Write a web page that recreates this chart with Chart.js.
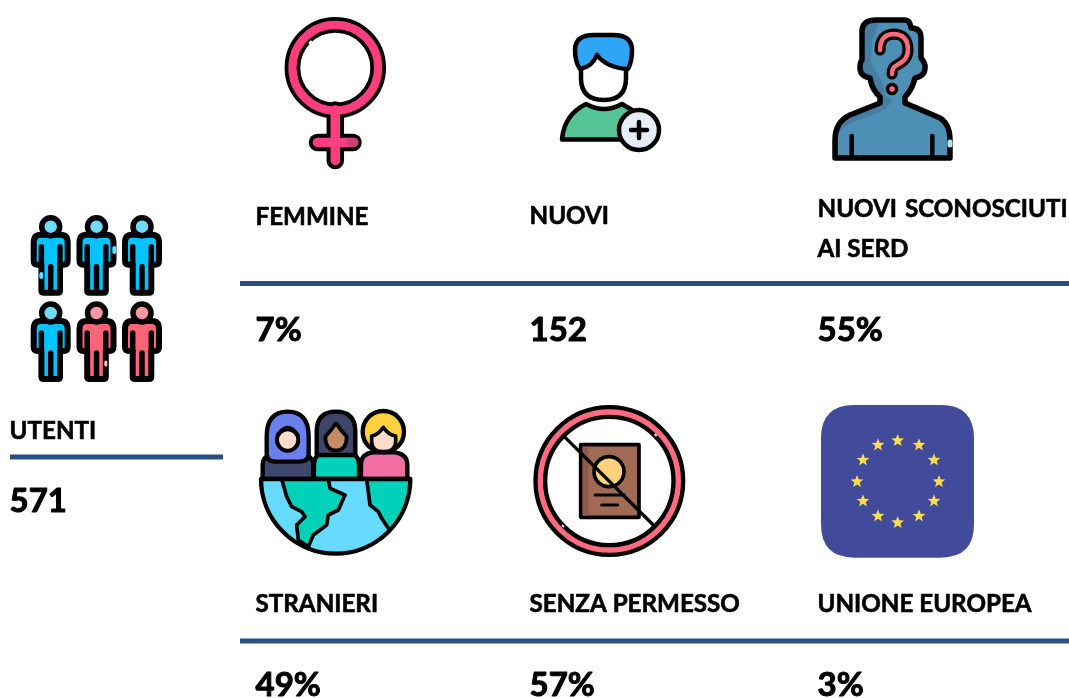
<!DOCTYPE html>
<html>
<head>
<meta charset="utf-8">
<title>Utenti</title>
<style>
html, body { margin: 0; padding: 0; background: #fff; overflow: hidden; }
canvas { display: block; }
</style>
<script src="https://cdn.jsdelivr.net/npm/chart.js@4"></script>
</head>
<body>
<canvas id="mycanvas" width="1069" height="698"></canvas>
<script>
// data
var categories = [['UTENTI'], ['FEMMINE'], ['NUOVI'], ['NUOVI SCONOSCIUTI', 'AI SERD'], ['STRANIERI'], ['SENZA PERMESSO'], ['UNIONE EUROPEA']];
var values = [571, 7, 152, 55, 49, 57, 3];
var units = ['', '%', '', '%', '%', '%', '%'];

// layout, in the units of the two hidden axes (same as px here)
var textX = [9.5, 255.5, 529.5, 817.5, 255.5, 529.5, 817.5];
var labelY = [439, 225, 224, 217, 612, 612, 612];
var valueY = [512, 341, 341, 341, 696, 696, 696];
var ruleFrom = [[10, 457], [240, 283.5], [240, 641]];
var ruleTo = [[223, 457], [1069, 283.5], [1069, 641]];
var iconPos = [[96, 299], [335, 94], [611, 92], [892, 90], [335, 482.5], [610, 482.5], [897.5, 480]];

function stroke(c, w) {
  c.strokeStyle = '#000';
  c.lineWidth = w;
  c.stroke();
}
function shape(c, d, fill, w) {
  var p = new Path2D(d);
  if (fill) { c.fillStyle = fill; c.fill(p); }
  if (w) { c.strokeStyle = '#000'; c.lineWidth = w; c.stroke(p); }
}
function disc(c, x, y, r, fill, w) {
  c.beginPath();
  c.arc(x, y, r, 0, Math.PI * 2);
  if (fill) { c.fillStyle = fill; c.fill(); }
  if (w) stroke(c, w);
}
function seg(c, x1, y1, x2, y2, col, w) {
  c.beginPath();
  c.moveTo(x1, y1);
  c.lineTo(x2, y2);
  c.strokeStyle = col;
  c.lineWidth = w;
  c.stroke();
}
// every icon is drawn on its own small canvas, used as a pointStyle
function icon(w, h, k, draw) {
  var cv = document.createElement('canvas');
  cv.width = w;
  cv.height = h;
  var c = cv.getContext('2d');
  c.lineJoin = 'round';
  c.lineCap = 'round';
  c.scale(k, k);
  draw(c);
  return cv;
}

function person(c, x, y, body, head) {
  c.save();
  c.translate(x, y);
  shape(c, 'M-10,8 Q-17,8 -17,16 L-17,34 Q-17,38 -13,38 L-9.3,38 L-9.3,64 Q-9.3,66 -7,66 L7,66 Q9.3,66 9.3,64 L9.3,38 L13,38 Q17,38 17,34 L17,16 Q17,8 10,8 Z', body, 6);
  seg(c, -9.3, 20, -9.3, 38, '#000', 5.5);
  seg(c, 9.3, 20, 9.3, 38, '#000', 5.5);
  seg(c, 0, 40, 0, 66, '#000', 5.5);
  disc(c, 0, 0, 9, head, 5.5);
  c.restore();
}

var icons = [
  // people
  icon(140, 180, 1, function (c) {
    c.translate(-26, -209);
    var blue = '#00c4ff', lblue = '#6fdcff', red = '#ff6578', lred = '#ff98a3';
    person(c, 50.7, 226.7, blue, lblue);
    person(c, 96.5, 226.7, blue, lblue);
    person(c, 142, 226.7, blue, lblue);
    person(c, 50.7, 313, blue, lblue);
    person(c, 96.5, 313, red, lred);
    person(c, 142, 313, red, lred);
    seg(c, 41.3, 274, 41.3, 277, '#66dcff', 4);
    seg(c, 114.3, 248, 114.3, 252, '#66dcff', 4);
    seg(c, 105.8, 362, 105.8, 365, '#ffc0c8', 3);
  }),
  // venus
  icon(120, 176, 1, function (c) {
    c.translate(-275, -6);
    seg(c, 335.3, 110, 335.3, 160.5, '#000', 17.5);
    seg(c, 317.5, 142.5, 353, 142.5, '#000', 17.5);
    disc(c, 335.3, 67.7, 42.85, null, 15.7);
    c.strokeStyle = '#ff3d7f';
    c.lineWidth = 8.2;
    c.beginPath(); c.arc(335.3, 67.7, 42.85, 0, Math.PI * 2); c.stroke();
    seg(c, 335.3, 110, 335.3, 160.5, '#ff3d7f', 9.5);
    seg(c, 317.5, 142.5, 353, 142.5, '#ff3d7f', 9.5);
    seg(c, 351, 142.5, 354, 142.5, '#c8427a', 9.5);
    seg(c, 309.5, 43, 311, 41.5, '#fff', 2);
  }),
  // new user
  icon(120, 130, 1, function (c) {
    c.translate(-551, -27);
    shape(c, 'M562,139.5 Q564,115 586,104 Q604,114 622,104 L642,116 L642,139.5 Z', '#55c496', 4.5);
    shape(c, 'M581,45 L581,78 Q581,100 604,100 Q626,100 626,78 L626,45 Z', '#fff', 4.5);
    shape(c, 'M580,69 Q575,62 575,50 Q575,35 594,35 L613,35 Q632,35 632,50 Q632,62 628,69 Q607,68 597,55 Q592,67 580,69 Z', '#2fa5f5', 4.5);
    disc(c, 639, 130, 20, '#e6ecf8', 4.5);
    seg(c, 639, 122, 639, 138, '#000', 4.5);
    seg(c, 631, 130, 647, 130, '#000', 4.5);
  }),
  // unknown person
  icon(130, 150, 1, function (c) {
    c.translate(-827, -15);
    var outline = 'M835,158 L835,140 Q835,122 850,115 L880,103 L880,97 Q872,90 870,78 Q860,76 860,68 Q860,62 862,60 L862,32 Q862,20 876,20 L905,20 Q910,20 911,28 Q921,28 921,38 L921,58 Q926,64 925,68 Q925,76 915,78 Q912,90 905,97 L905,103 L940,118 Q950,124 950,140 L950,158 Z';
    shape(c, outline, '#4d8fb5', 0);
    c.save();
    c.clip(new Path2D(outline));
    shape(c, 'M830,160 L838,160 L838,136 Q842,126 856,121 L885,110 L893,100 L885,96 L882,82 L876,72 L871,62 L872,40 L880,20 L855,15 L830,120 Z', '#467ca0', 0);
    c.restore();
    shape(c, outline, null, 5.5);
    seg(c, 851.7, 136, 851.7, 158, '#000', 4.5);
    seg(c, 932.3, 136, 932.3, 158, '#000', 4.5);
    seg(c, 950, 142, 950, 145, '#b8e4f0', 5);
    var q = 'M880,50 Q880,35 893,34 Q908,34 908,50 Q908,60 897,65 Q892,67 892,74';
    shape(c, q, null, 11);
    c.strokeStyle = '#ff6b78';
    c.lineWidth = 4.5;
    c.stroke(new Path2D(q));
    disc(c, 892, 89, 4.5, '#ff6b78', 3.5);
  }),
  // globe with women, drawn in 3x crop units
  icon(170, 165, 1 / 3, function (c) {
    // bodies
    shape(c, 'M38,237 L38,195 Q38,170 60,165 L170,165 Q190,175 190,195 L190,237 Z', '#40486f', 13);
    shape(c, 'M192,237 L192,195 Q192,160 230,157 L290,157 Q327,160 327,195 L327,237 Z', '#00d1b8', 13);
    shape(c, 'M333,237 L333,195 Q333,160 370,157 L430,157 Q472,160 472,195 L472,237 Z', '#f26ea3', 13);
    // hijab
    shape(c, 'M50,110 Q50,35 113,35 Q176,35 176,110 L176,160 Q176,185 150,185 L76,185 Q50,185 50,160 Z', '#6b80ef', 13);
    shape(c, 'M82,105 Q113,60 144,105', '#505fc0', 10);
    disc(c, 113, 120, 32, '#ffdcc8', 12);
    // dark hair
    shape(c, 'M200,165 L200,95 Q200,35 258,35 Q316,35 316,95 L316,165 Z', '#3e4668', 13);
    shape(c, 'M226,110 Q245,90 258,70 Q272,92 290,110 Q290,150 258,152 Q226,150 226,110 Z', '#c68a66', 11);
    // blonde
    disc(c, 400, 95, 62, '#ffd23d', 13);
    shape(c, 'M365,108 Q385,105 400,82 Q415,105 437,108 L437,125 Q437,155 400,155 Q365,155 365,125 Z', '#ffdcc8', 11);
    // earth
    var half = 'M33,237 L481,237 A224,224 0 0 1 33,237 Z';
    shape(c, half, '#66dbff', 0);
    c.save();
    c.clip(new Path2D(half));
    var land1 = 'M95,237 L110,290 L125,320 L155,335 L165,350 L140,375 L145,420 L175,440 L190,405 L230,375 L235,345 L265,330 L285,285 L240,265 L235,237 Z';
    var land1b = 'M145,420 L130,430';
    var land2 = 'M350,237 L360,315 L385,335 L395,355 L415,385 L445,400 L490,300 L490,237 Z';
    shape(c, land1, '#00d1b8', 11);
    shape(c, land1b, null, 0);
    shape(c, land2, '#00d1b8', 11);
    c.restore();
    shape(c, half, null, 13);
  }),
  // passport crossed
  icon(170, 165, 1 / 3, function (c) {
    c.beginPath();
    c.arc(253, 243, 207, 0, Math.PI * 2);
    stroke(c, 42);
    c.strokeStyle = '#ff6b81';
    c.lineWidth = 16;
    c.stroke();
    c.lineCap = 'butt';
    seg(c, 389, 102, 395, 108, '#ffd0d8', 6);
    seg(c, 111, 375, 117, 381, '#ffd0d8', 6);
    c.lineCap = 'round';
    shape(c, 'M167,134 L342,134 L342,352 L167,352 Z', '#a06a55', 11);
    shape(c, 'M173,140 L190,140 L190,347 L173,347 Z', '#8f5a48', 0);
    disc(c, 252, 215, 45, '#ffd27d', 11);
    seg(c, 210, 285, 298, 285, '#000', 9);
    seg(c, 230, 315, 278, 315, '#000', 9);
    seg(c, 118, 110, 388, 378, '#000', 10);
  }),
  // EU flag
  icon(175, 170, 1 / 3, function (c) {
    shape(c, 'M133,30 L392,30 Q492,30 492,130 L492,388 Q492,488 392,488 L133,488 Q33,488 33,388 L33,130 Q33,30 133,30 Z', '#424a9b', 0);
    var stars = [[263, 137], [327, 150], [372, 195], [387, 260], [372, 318], [327, 363], [263, 383], [204, 363], [159, 318], [141, 260], [159, 195], [204, 150]];
    c.fillStyle = '#ffdc52';
    stars.forEach(function (s) {
      c.beginPath();
      for (var i = 0; i < 10; i++) {
        var r = i % 2 ? 8.5 : 20;
        var a = -Math.PI / 2 + i * Math.PI / 5;
        c.lineTo(s[0] + r * Math.cos(a), s[1] + r * Math.sin(a));
      }
      c.closePath();
      c.fill();
    });
  })
];

var labelFont = '700 24.2px Lato';
var valueFont = '700 33px Lato';

var textPlugin = {
  id: 'kpiText',
  afterDraw: function (chart) {
    var c = chart.ctx, sx = chart.scales.x, sy = chart.scales.y;
    c.save();
    c.fillStyle = '#000';
    c.strokeStyle = '#000';
    c.lineJoin = 'round';
    c.textAlign = 'left';
    c.textBaseline = 'alphabetic';
    categories.forEach(function (lines, i) {
      var x = sx.getPixelForValue(textX[i]);
      c.font = labelFont;
      c.lineWidth = 0.6;
      lines.forEach(function (line, n) {
        c.wordSpacing = n == 0 && lines.length > 1 ? '2px' : '0px';
        var y = sy.getPixelForValue(labelY[i] + n * 40);
        c.fillText(line, x, y);
        c.strokeText(line, x, y);
      });
      c.wordSpacing = '0px';
      c.font = valueFont;
      c.lineWidth = 1;
      var txt = values[i] + units[i], vy = sy.getPixelForValue(valueY[i]);
      c.fillText(txt, x, vy);
      c.strokeText(txt, x, vy);
    });
    c.restore();
  }
};

var datasets = ruleFrom.map(function (a, i) {
  return {
    type: 'line',
    data: [{ x: a[0], y: a[1] }, { x: ruleTo[i][0], y: ruleTo[i][1] }],
    borderColor: '#2a5083',
    borderWidth: 5,
    pointRadius: 0,
    borderCapStyle: 'butt'
  };
});
datasets.push({
  type: 'scatter',
  data: iconPos.map(function (p) { return { x: p[0], y: p[1] }; }),
  pointStyle: icons,
  pointRadius: 10
});

var ctx = document.querySelector('#mycanvas');
var chart = new Chart(ctx, {
  type: 'scatter',
  data: { datasets: datasets },
  plugins: [textPlugin],
  options: {
    responsive: false,
    animation: false,
    layout: { padding: 0, autoPadding: false },
    plugins: { legend: { display: false }, tooltip: { enabled: false } },
    scales: {
      x: { type: 'linear', display: false, min: 0, max: 1069 },
      y: { type: 'linear', display: false, min: 0, max: 698, reverse: true }
    }
  }
});
</script>
</body>
</html>
